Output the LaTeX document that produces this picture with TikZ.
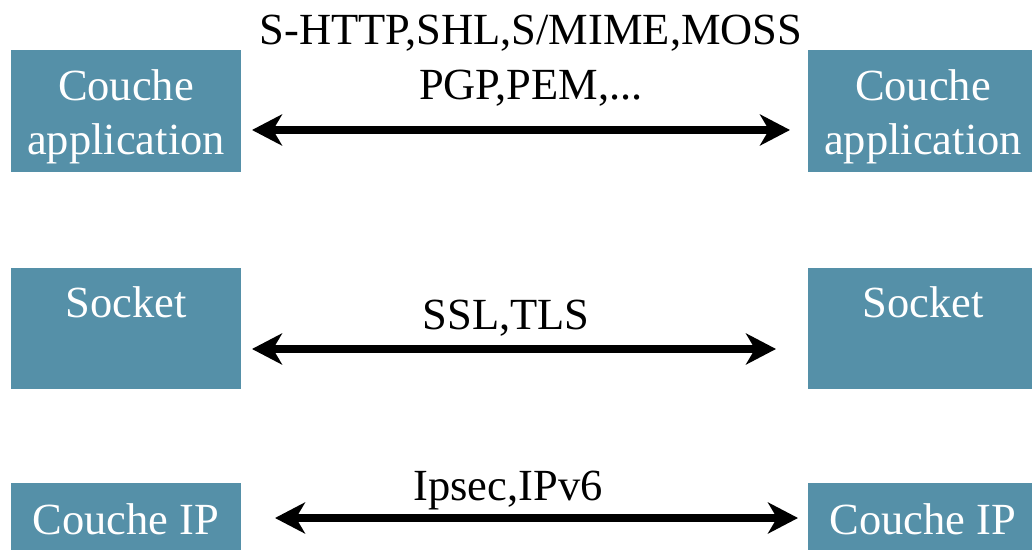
\documentclass[tikz,border=0pt]{standalone}
\usepackage{fontspec}
\setmainfont{Liberation Serif}
\usetikzlibrary{arrows.meta}
\definecolor{boxteal}{RGB}{85,144,168}
\tikzset{
  layerbox/.style={rectangle, fill=boxteal, draw=none, inner sep=0pt, minimum width=230pt},
  boxtext/.style={text=white, font=\fontsize{44.5}{54}\selectfont, align=center, inner sep=0pt, anchor=base},
  prototext/.style={text=black, font=\fontsize{44.5}{55}\selectfont, align=center, inner sep=0pt, anchor=base},
  biarrow/.style={line width=7.5pt, {Stealth[length=30pt, width=31pt, inset=9pt]}-{Stealth[length=30pt, width=31pt, inset=9pt]}}
}
\begin{document}
\begin{tikzpicture}[x=1pt, y=1pt]
\useasboundingbox (0,0) rectangle (1032,549);
\clip (0,0) rectangle (1032,549);
% boxes
\node[layerbox, minimum height=122pt] (L1) at (126,438) {};
\node[layerbox, minimum height=122pt] (R1) at (923,438) {};
\node[layerbox, minimum height=121pt] (L2) at (126,220.5) {};
\node[layerbox, minimum height=121pt] (R2) at (923,220.5) {};
\node[layerbox, minimum height=122pt] (L3) at (126,5) {};
\node[layerbox, minimum height=122pt] (R3) at (923,5) {};
% box texts
\node[boxtext] (t1l) at (126,394) {Couche\\application};
\node[boxtext] (t1r) at (923,394) {Couche\\application};
\node[boxtext] (t2l) at (126,231) {Socket};
\node[boxtext] (t2r) at (923,231) {Socket};
\node[boxtext] (t3l) at (126,15) {Couche IP};
\node[boxtext] (t3r) at (923,15) {Couche IP};
% protocol labels
\node[prototext] (p1) at (531,449) {S-HTTP,SHL,S/MIME,MOSS\\PGP,PEM,...};
\node[prototext] (p2) at (506,219) {SSL,TLS};
\node[prototext] (p3) at (508,49) {Ipsec,IPv6};
% arrow ends
\coordinate (a1l) at (252,419);
\coordinate (a1r) at (790,419);
\coordinate (a2l) at (252,200);
\coordinate (a2r) at (776,200);
\coordinate (a3l) at (275,31);
\coordinate (a3r) at (798,31);
\draw[biarrow] (a1l) -- (a1r);
\draw[biarrow] (a2l) -- (a2r);
\draw[biarrow] (a3l) -- (a3r);
\end{tikzpicture}
\end{document}
